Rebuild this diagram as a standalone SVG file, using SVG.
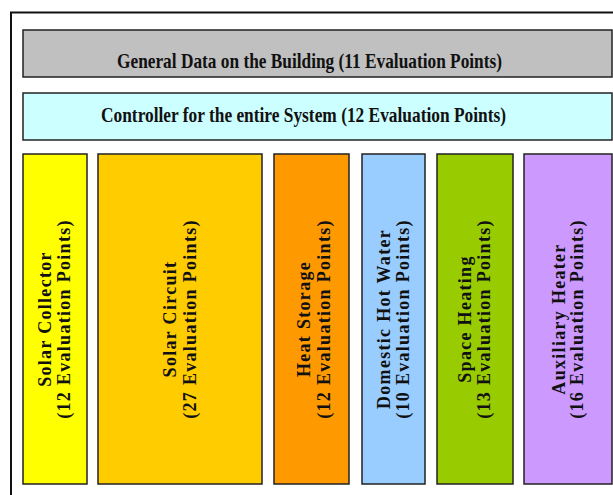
<svg xmlns="http://www.w3.org/2000/svg" width="613" height="495" viewBox="0 0 613 495">
<style>
.box{stroke:#222;stroke-width:1.5}
.h{font-family:"Liberation Serif","Times New Roman",serif;font-weight:bold;font-size:22px;fill:#111;text-anchor:middle}
.v{font-family:"Liberation Serif","Times New Roman",serif;font-weight:bold;font-size:18px;fill:#111;text-anchor:middle;letter-spacing:1.3px}
</style>
<rect width="613" height="495" fill="#ffffff"/>
<rect id="frame" x="11" y="12.5" width="620" height="500" fill="#ffffff" stroke="#111" stroke-width="2"/>
<g id="general">
<rect class="box" x="23" y="30" width="589" height="47" fill="#c0c0c0"/>
<text class="h" x="309.5" y="68" textLength="385" lengthAdjust="spacingAndGlyphs">General Data on the Building (11 Evaluation Points)</text>
</g>
<g id="controller">
<rect class="box" x="23" y="93" width="589" height="47" fill="#ccffff"/>
<text class="h" x="303.5" y="122" textLength="405" lengthAdjust="spacingAndGlyphs">Controller for the entire System (12 Evaluation Points)</text>
</g>
<g id="solar-collector">
<rect class="box" x="23" y="154" width="64" height="330" fill="#ffff00"/>
<g transform="translate(55 319) rotate(-90)">
<text class="v" x="0" y="-4">Solar Collector</text>
<text class="v" x="0" y="15">(12 Evaluation Points)</text>
</g>
</g>
<g id="solar-circuit">
<rect class="box" x="98" y="154" width="164" height="330" fill="#ffcc00"/>
<g transform="translate(180 319) rotate(-90)">
<text class="v" x="0" y="-4">Solar Circuit</text>
<text class="v" x="0" y="16">(27 Evaluation Points)</text>
</g>
</g>
<g id="heat-storage">
<rect class="box" x="274" y="154" width="75" height="330" fill="#ff9900"/>
<g transform="translate(311.5 319) rotate(-90)">
<text class="v" x="0" y="-2">Heat Storage</text>
<text class="v" x="0" y="18">(12 Evaluation Points)</text>
</g>
</g>
<g id="domestic-hot-water">
<rect class="box" x="362" y="154" width="63" height="330" fill="#99ccff"/>
<g transform="translate(393.5 319) rotate(-90)">
<text class="v" x="0" y="-4">Domestic Hot Water</text>
<text class="v" x="0" y="15">(10 Evaluation Points)</text>
</g>
</g>
<g id="space-heating">
<rect class="box" x="437" y="154" width="76" height="330" fill="#99cc00"/>
<g transform="translate(475 319) rotate(-90)">
<text class="v" x="0" y="-4">Space Heating</text>
<text class="v" x="0" y="15">(13 Evaluation Points)</text>
</g>
</g>
<g id="auxiliary-heater">
<rect class="box" x="524" y="154" width="88" height="330" fill="#cc99ff"/>
<g transform="translate(568 319) rotate(-90)">
<text class="v" x="0" y="-3">Auxiliary Heater</text>
<text class="v" x="0" y="15">(16 Evaluation Points)</text>
</g>
</g>
<g id="connectors"></g>
</svg>
